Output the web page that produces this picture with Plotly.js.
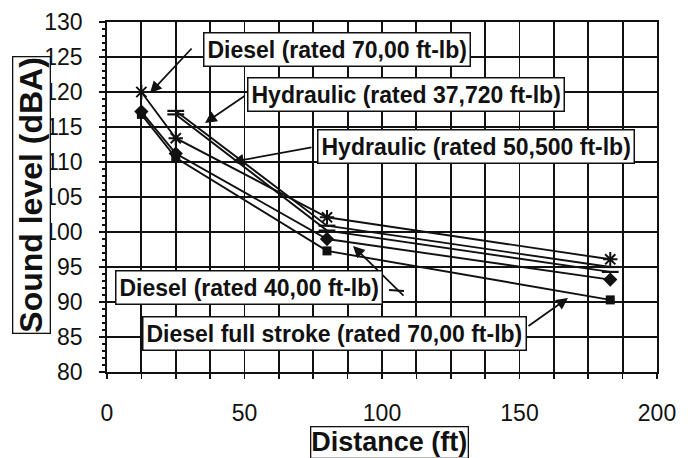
<!DOCTYPE html>
<html>
<head>
<meta charset="utf-8">
<script src="https://cdn.plot.ly/plotly-3.0.1.min.js"></script>
<style>html,body{margin:0;padding:0;background:#fff;}#chart{width:690px;height:458px;}</style>
</head>
<body>
<div id="chart"></div>
<script>
// ---- data ----
var diesel70X = [12.5, 25, 80, 183];
var diesel70Y = [120, 113.4, 102.1, 96.1];

var hyd37720X = [25, 80, 183];
var hyd37720Y = [117.3, 100.9, 95.0];

var hyd50500X = [25, 80, 183];
var hyd50500Y = [116.8, 100.2, 94.3];

var diesel40X = [12.5, 25, 80, 183];
var diesel40Y = [117.2, 111.2, 99.0, 93.2];

var fullStrokeX = [12.5, 25, 80, 183];
var fullStrokeY = [116.8, 110.6, 97.3, 90.3];

var xTickVals = [0, 12.5, 25, 37.5, 50, 62.5, 75, 87.5, 100, 112.5, 125, 137.5, 150, 162.5, 175, 187.5, 200];
var xTickText = ['0', '', '', '', '50', '', '', '', '100', '', '', '', '150', '', '', '', '200'];
var yTickVals = [80, 85, 90, 95, 100, 105, 110, 115, 120, 125, 130];
var yTickText = ['80', '85', '90', '95', '100', '105', '110', '115', '120', '125', '130'];

var labelTexts = [
  'Diesel (rated 70,00 ft-lb)',
  'Hydraulic (rated 37,720 ft-lb)',
  'Hydraulic (rated 50,500 ft-lb)',
  'Diesel (rated 40,00 ft-lb)',
  'Diesel full stroke (rated 70,00 ft-lb)'
];
var xTitle = 'Distance (ft)';
var yTitle = 'Sound level (dBA)';

// ---- layout geometry (pixels) ----
var W = 690, H = 458;
var M = {l: 107, r: 33, t: 22, b: 86};
var PW = W - M.l - M.r, PH = H - M.t - M.b;
function px2x(px) { return (px - M.l) / PW; }
function py2y(py) { return (H - M.b - py) / PH; }

var FONT = 'Liberation Sans, Arial, sans-serif';
var INK = '#111';

function lineTrace(x, y, sym, size, name, lw) {
  return {
    type: 'scatter', mode: 'lines+markers', x: x, y: y, name: name,
    line: {color: INK, width: 1.9},
    marker: {symbol: sym, size: size, color: INK, line: {color: INK, width: lw}},
    cliponaxis: false
  };
}

var traces = [
  lineTrace(fullStrokeX, fullStrokeY, 'square', 9, labelTexts[4], 0),
  lineTrace(diesel40X, diesel40Y, 'diamond', 11, labelTexts[3], 0),
  lineTrace(hyd50500X, hyd50500Y, 'line-ew-open', 12, labelTexts[2], 2.2),
  lineTrace(hyd37720X, hyd37720Y, 'line-ew-open', 12, labelTexts[1], 2.2),
  lineTrace(diesel70X, diesel70Y, 'asterisk-open', 12, labelTexts[0], 2)
];

// label boxes: center px
var boxes = [
  {t: labelTexts[0], cx: 337, cy: 49},
  {t: labelTexts[1], cx: 406, cy: 95},
  {t: labelTexts[2], cx: 476, cy: 146},
  {t: labelTexts[3], cx: 249, cy: 287},
  {t: labelTexts[4], cx: 334, cy: 333}
];
// arrows: tail px -> tip px
var arrows = [
  {tx: 193, ty: 47, hx: 150, hy: 93},
  {tx: 246, ty: 95, hx: 205, hy: 123},
  {tx: 313, ty: 147, hx: 232, hy: 162},
  {tx: 405, ty: 297, hx: 353, hy: 246},
  {tx: 527, ty: 327, hx: 568, hy: 298}
];

var annotations = [];
arrows.forEach(function (a) {
  annotations.push({
    xref: 'paper', yref: 'paper', x: px2x(a.hx), y: py2y(a.hy),
    ax: a.tx - a.hx, ay: a.ty - a.hy, axref: 'pixel', ayref: 'pixel',
    text: '', showarrow: true, arrowhead: 2, arrowsize: 1.3, arrowwidth: 1.8, arrowcolor: INK,
    standoff: 0, startstandoff: 0
  });
});
boxes.forEach(function (b) {
  annotations.push({
    xref: 'paper', yref: 'paper', x: px2x(b.cx), y: py2y(b.cy), xanchor: 'center', yanchor: 'middle',
    text: '<b>' + b.t + '</b>', showarrow: false,
    font: {family: FONT, size: 23, color: INK},
    bgcolor: '#fff', bordercolor: INK, borderwidth: 1.5, borderpad: 3
  });
});
// axis titles as boxed annotations
annotations.push({
  xref: 'paper', yref: 'paper', x: px2x(389), y: py2y(442), xanchor: 'center', yanchor: 'middle',
  text: '<b>' + xTitle + '</b>', showarrow: false,
  font: {family: FONT, size: 27, color: INK},
  bgcolor: '#fff', bordercolor: INK, borderwidth: 1.3, borderpad: 0
});
annotations.push({
  xref: 'paper', yref: 'paper', x: px2x(31), y: py2y(195), xanchor: 'center', yanchor: 'middle',
  text: '<b>' + yTitle + '</b>', showarrow: false, textangle: -90,
  font: {family: FONT, size: 32, color: INK},
  bgcolor: '#fff', bordercolor: INK, borderwidth: 1.3, borderpad: 0
});

var layout = {
  width: W, height: H,
  margin: M,
  paper_bgcolor: '#fff', plot_bgcolor: '#fff',
  showlegend: false,
  font: {family: FONT, color: INK},
  xaxis: {
    range: [0, 200], tickmode: 'array', tickvals: xTickVals, ticktext: xTickText,
    showgrid: true, gridcolor: INK, gridwidth: 1.8,
    showline: true, linecolor: INK, linewidth: 1.8, mirror: true,
    ticks: 'outside', ticklen: 5, tickwidth: 1.6, tickcolor: INK,
    tickfont: {family: FONT, size: 23, color: INK}, ticklabelstandoff: 15,
    zeroline: false
  },
  yaxis: {
    range: [80, 130], tickmode: 'array', tickvals: yTickVals, ticktext: yTickText,
    showgrid: true, gridcolor: INK, gridwidth: 1.8,
    showline: true, linecolor: INK, linewidth: 1.8, mirror: true,
    ticks: 'outside', ticklen: 6, tickwidth: 1.6, tickcolor: INK,
    minor: {dtick: 1, ticks: 'outside', ticklen: 3, tickwidth: 1.2, tickcolor: INK, showgrid: false},
    tickfont: {family: FONT, size: 23, color: INK}, ticklabelstandoff: 12,
    zeroline: false
  },
  annotations: annotations,
  shapes: [
    {type: 'line', xref: 'paper', yref: 'paper', x0: px2x(389), y0: py2y(290), x1: px2x(404), y1: py2y(291),
     line: {color: INK, width: 1.8}}
  ]
};

Plotly.newPlot('chart', traces, layout, {staticPlot: true, displayModeBar: false});
</script>
</body>
</html>
